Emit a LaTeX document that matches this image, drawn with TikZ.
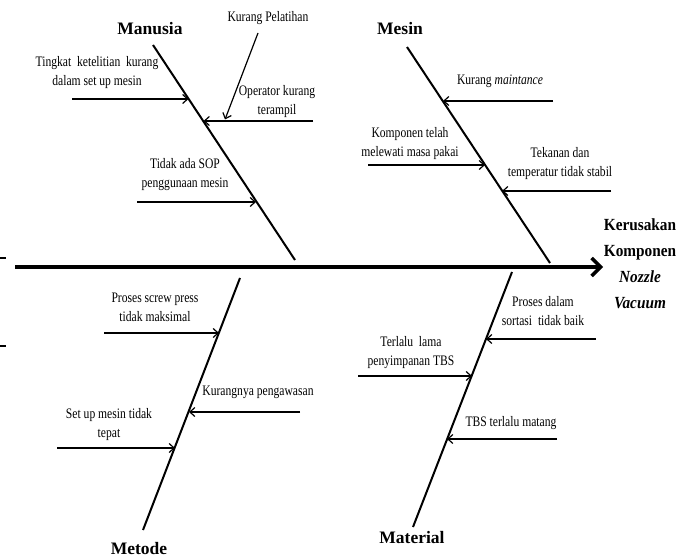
\documentclass[tikz,border=0pt]{standalone}
\usepackage{fontspec}
\setmainfont{Liberation Serif}
\newfontfamily\lab[FakeStretch=0.8]{Liberation Serif}
\newfontfamily\ttl[FakeStretch=0.9]{Liberation Serif}
\usetikzlibrary{arrows.meta}
\tikzset{
  bone/.style={line width=2pt},
  cause/.style={line width=1.2pt,-{Straight Barb[length=5pt,width=9pt]}},
  lbl/.style={font=\lab\fontsize{14.5}{19}\selectfont,align=center,inner sep=0pt},
  cat/.style={font=\bfseries\fontsize{17.5}{20}\selectfont,inner sep=0pt},
  head/.style={font=\ttl\bfseries\fontsize{17}{26}\selectfont,align=center,inner sep=0pt}
}
\begin{document}
\begin{tikzpicture}[x=1pt,y=-1pt]
\useasboundingbox (0,0) rectangle (691,559);
% small marks at the left edge
\draw[line width=2pt] (0,258) -- (6,258);
\draw[line width=2pt] (0,346) -- (6,346);
% spine
\coordinate (s0) at (15,267);
\node[head] (effect) at (640,264) {Kerusakan\\Komponen\\\textit{Nozzle}\\\textit{Vacuum}};
\coordinate (s1) at (603,267);
\draw[line width=3.5pt,-{Straight Barb[length=9pt,width=18pt]}] (s0) -- (s1);
% bones
\coordinate (mA) at (153,45);  \coordinate (mB) at (295,260);
\coordinate (cA) at (407,47);  \coordinate (cB) at (550,263);
\coordinate (tA) at (240,278); \coordinate (tB) at (143,530);
\coordinate (rA) at (512,272); \coordinate (rB) at (413,527);
\draw[bone] (mA) -- (mB);
\draw[bone] (cA) -- (cB);
\draw[bone] (tA) -- (tB);
\draw[bone] (rA) -- (rB);
\node[cat] (manusia) at (150,29) {Manusia};
\node[cat] (mesin) at (400,29) {Mesin};
\node[cat] (metode) at (139,549) {Metode};
\node[cat] (material) at (412,538) {Material};
% Manusia causes
\node[lbl] (l1) at (97,73) {Tingkat\ \ ketelitian\ \ kurang\\dalam set up mesin};
\node[lbl] (l2) at (277,102) {Operator kurang\\terampil};
\node[lbl] (l3) at (268,18) {Kurang Pelatihan};
\node[lbl] (l4) at (185,175) {Tidak ada SOP\\penggunaan mesin};
\coordinate (a1s) at (72,99);  \coordinate (a1e) at (188.5,99);
\coordinate (a2s) at (313,121); \coordinate (a2e) at (203.5,121);
\coordinate (a3s) at (258,33);  \coordinate (a3e) at (225,119.5);
\coordinate (a4s) at (137,202); \coordinate (a4e) at (256,202);
\draw[cause] (a1s) -- (a1e);
\draw[cause] (a2s) -- (a2e);
\draw[cause] (a3s) -- (a3e);
\draw[cause] (a4s) -- (a4e);
% Mesin causes
\node[lbl] (m1) at (500,81) {Kurang \textit{maintance}};
\node[lbl] (m2) at (410,144) {Komponen telah\\melewati masa pakai};
\node[lbl] (m3) at (560,164) {Tekanan dan\\temperatur tidak stabil};
\coordinate (b1s) at (553,101); \coordinate (b1e) at (443,101);
\coordinate (b2s) at (368,165); \coordinate (b2e) at (485,165);
\coordinate (b3s) at (611,191); \coordinate (b3e) at (502,191);
\draw[cause] (b1s) -- (b1e);
\draw[cause] (b2s) -- (b2e);
\draw[cause] (b3s) -- (b3e);
% Metode causes
\node[lbl] (t1) at (155,307) {Proses screw press\\tidak maksimal};
\node[lbl] (t2) at (258,392) {Kurangnya pengawasan};
\node[lbl] (t3) at (109,425) {Set up mesin tidak\\tepat};
\coordinate (c1s) at (104,333); \coordinate (c1e) at (219,333);
\coordinate (c2s) at (300,412); \coordinate (c2e) at (189,412);
\coordinate (c3s) at (57,448);  \coordinate (c3e) at (175,448);
\draw[cause] (c1s) -- (c1e);
\draw[cause] (c2s) -- (c2e);
\draw[cause] (c3s) -- (c3e);
% Material causes
\node[lbl] (r1) at (543,311) {Proses dalam\\sortasi\ \ tidak baik};
\node[lbl] (r2) at (411,353) {Terlalu\ \ lama\\penyimpanan TBS};
\node[lbl] (r3) at (511,423) {TBS terlalu matang};
\coordinate (d1s) at (596,339); \coordinate (d1e) at (486,339);
\coordinate (d2s) at (358,376); \coordinate (d2e) at (472,376);
\coordinate (d3s) at (557,439); \coordinate (d3e) at (447,439);
\draw[cause] (d1s) -- (d1e);
\draw[cause] (d2s) -- (d2e);
\draw[cause] (d3s) -- (d3e);
\end{tikzpicture}
\end{document}
